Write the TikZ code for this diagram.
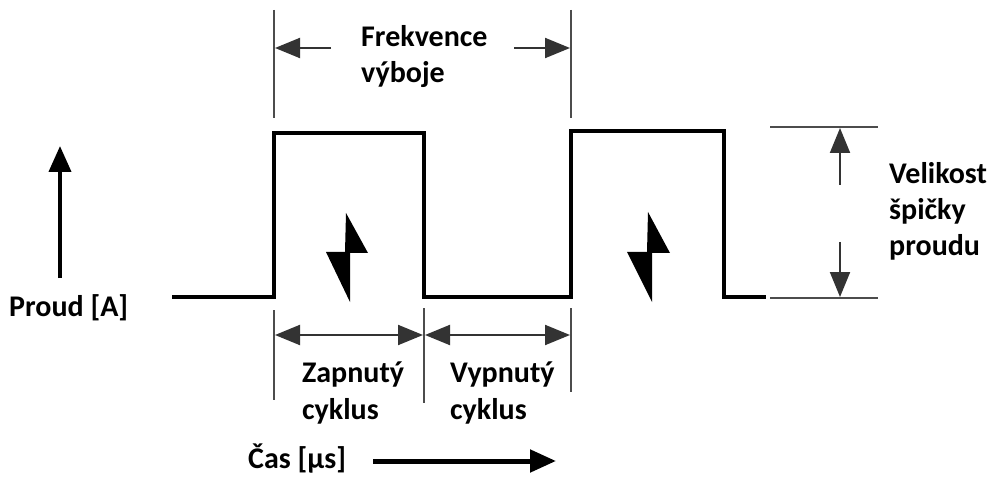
\documentclass[tikz,border=0pt]{standalone}
\usepackage{fontspec}
\setmainfont{Carlito}
\usetikzlibrary{arrows.meta}
\begin{document}
\begin{tikzpicture}[x=1pt,y=-1pt,
  lbl/.style={font=\fontsize{30}{36}\selectfont\bfseries, inner sep=0pt, align=left},
  guide/.style={line width=1.6pt, draw=black!70},
  dim/.style={line width=2pt, draw=black!80, -{Triangle[length=25pt,width=20pt]}},
  ddim/.style={line width=2pt, draw=black!80, {Triangle[length=25pt,width=20pt]}-{Triangle[length=25pt,width=20pt]}},
  wave/.style={line width=4pt, line join=miter},
  axis/.style={line width=4pt, -{Triangle[length=26pt,width=22pt]}},
  bolt/.style={fill=black}]
\useasboundingbox (0,0) rectangle (995,486);
% waveform
\coordinate (w0) at (172,297);
\coordinate (w1) at (274,297);
\coordinate (w2) at (274,133);
\coordinate (w3) at (424,133);
\coordinate (w4) at (424,297);
\coordinate (w5) at (571,297);
\coordinate (w6) at (571,131);
\coordinate (w7) at (724,131);
\coordinate (w8) at (724,297);
\coordinate (w9) at (766,297);
\draw[wave] (w0) -- (w1) -- (w2) -- (w3) -- (w4) -- (w5) -- (w6) -- (w7) -- (w8) -- (w9);
% lightning bolts
\fill[bolt] (346,213) -- (368,253) -- (350,253) -- (350,302) -- (326,252) -- (345,252) -- cycle;
\fill[bolt] (648,212) -- (670,253) -- (652,253) -- (652,302) -- (627,252) -- (647,252) -- cycle;
% frequency guides
\coordinate (ft1) at (274,10);
\coordinate (fb1) at (274,118);
\coordinate (ft2) at (571,10);
\coordinate (fb2) at (571,118);
\draw[guide] (ft1) -- (fb1);
\draw[guide] (ft2) -- (fb2);
\coordinate (fa1) at (331,48);
\coordinate (fa1t) at (275,48);
\coordinate (fa2) at (514,48);
\coordinate (fa2t) at (570,48);
\draw[dim] (fa1) -- (fa1t);
\draw[dim] (fa2) -- (fa2t);
\node[lbl, anchor=west] (freq) at (361,57) {Frekvence\\výboje};
% peak magnitude
\coordinate (pt1) at (770,127);
\coordinate (pt2) at (878,127);
\coordinate (pb1) at (770,298);
\coordinate (pb2) at (878,298);
\draw[guide] (pt1) -- (pt2);
\draw[guide] (pb1) -- (pb2);
\coordinate (pu0) at (840,185);
\coordinate (pu1) at (840,128);
\coordinate (pd0) at (840,242);
\coordinate (pd1) at (840,297);
\draw[dim] (pu0) -- (pu1);
\draw[dim] (pd0) -- (pd1);
\node[lbl, anchor=west] (peak) at (889,211) {Velikost\\špičky\\proudu};
% current axis
\coordinate (ya0) at (60,278);
\coordinate (ya1) at (60,146);
\draw[axis] (ya0) -- (ya1);
\node[lbl, anchor=base west] (proud) at (9,316) {Proud [A]};
% duty cycle
\coordinate (d1t) at (274,310);
\coordinate (d1b) at (274,400);
\coordinate (d2t) at (424,308);
\coordinate (d2b) at (424,403);
\coordinate (d3t) at (571,308);
\coordinate (d3b) at (571,392);
\draw[guide] (d1t) -- (d1b);
\draw[guide] (d2t) -- (d2b);
\draw[guide] (d3t) -- (d3b);
\coordinate (da1) at (275,335);
\coordinate (da2) at (423,335);
\coordinate (da3) at (425,335);
\coordinate (da4) at (570,335);
\draw[ddim] (da1) -- (da2);
\draw[ddim] (da3) -- (da4);
\node[lbl, anchor=west] (on) at (302,393) {Zapnutý\\cyklus};
\node[lbl, anchor=west] (off) at (450,393) {Vypnutý\\cyklus};
% time axis
\node[lbl, anchor=base west] (cas) at (248,468) {Čas [µs]};
\coordinate (ta0) at (373,461);
\coordinate (ta1) at (556,461);
\draw[axis, line width=5pt] (ta0) -- (ta1);
\end{tikzpicture}
\end{document}
